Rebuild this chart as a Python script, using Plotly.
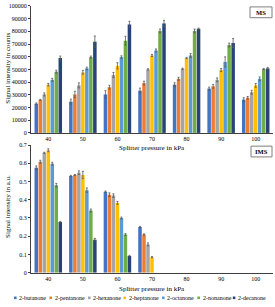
import plotly.graph_objects as go

pressures = ["40", "50", "60", "70", "80", "90", "100"]
compounds = ["2-butanone", "2-pentanone", "2-hexanone", "2-heptanone",
             "2-octanone", "2-nonanone", "2-decanone"]
colors = ["#4472C4", "#ED7D31", "#A5A5A5", "#FFC000", "#5B9BD5", "#70AD47", "#264478"]

# MS signal intensity (counts), one list per compound across pressures
ms_butanone = [23000, 24600, 30300, 33300, 38000, 34900, 26200]
ms_pentanone = [26000, 30300, 36000, 39200, 42600, 36700, 27700]
ms_hexanone = [30300, 37400, 45600, 50000, 50500, 41800, 32000]
ms_heptanone = [38000, 47700, 52800, 61000, 59000, 49500, 37400]
ms_octanone = [41800, 50800, 59700, 64900, 61000, 55900, 42600]
ms_nonanone = [48200, 59700, 72600, 80300, 80300, 69200, 50300]
ms_decanone = [59000, 71800, 85400, 86200, 82000, 70800, 50800]

ms_err_butanone = [600, 2000, 3000, 2000, 1500, 1200, 1500]
ms_err_pentanone = [400, 2500, 1500, 1500, 1200, 1500, 1000]
ms_err_hexanone = [1200, 2000, 2000, 500, 500, 1500, 1500]
ms_err_heptanone = [1000, 1500, 2500, 800, 500, 1200, 1500]
ms_err_octanone = [1200, 1000, 1000, 1200, 1500, 4000, 1500]
ms_err_nonanone = [1200, 800, 3500, 1500, 1500, 1500, 500]
ms_err_decanone = [1500, 4500, 2500, 2500, 500, 3500, 800]

# IMS signal intensity (a.u.)
ims_butanone = [0.576, 0.531, 0.444, 0.25, None, None, None]
ims_pentanone = [0.609, 0.536, 0.428, 0.209, None, None, None]
ims_hexanone = [0.658, 0.549, 0.423, 0.155, None, None, None]
ims_heptanone = [0.672, 0.536, 0.383, 0.085, None, None, None]
ims_octanone = [0.598, 0.453, 0.30, None, None, None, None]
ims_nonanone = [0.48, 0.341, 0.209, None, None, None, None]
ims_decanone = [0.278, 0.18, 0.092, None, None, None, None]

ims_err_butanone = [0.01, 0.003, 0.004, 0.004, None, None, None]
ims_err_pentanone = [0.008, 0.003, 0.01, 0.004, None, None, None]
ims_err_hexanone = [0.003, 0.01, 0.01, 0.008, None, None, None]
ims_err_heptanone = [0.008, 0.02, 0.008, 0.003, None, None, None]
ims_err_octanone = [0.008, 0.012, 0.005, None, None, None, None]
ims_err_nonanone = [0.01, 0.008, 0.005, None, None, None, None]
ims_err_decanone = [0.003, 0.008, 0.003, None, None, None, None]

ms_tickvals = [0, 10000, 20000, 30000, 40000, 50000, 60000, 70000, 80000, 90000, 100000]
ims_tickvals = [0, 0.1, 0.2, 0.3, 0.4, 0.5, 0.6, 0.7]

ms_series = [ms_butanone, ms_pentanone, ms_hexanone, ms_heptanone, ms_octanone, ms_nonanone, ms_decanone]
ms_errs = [ms_err_butanone, ms_err_pentanone, ms_err_hexanone, ms_err_heptanone,
           ms_err_octanone, ms_err_nonanone, ms_err_decanone]
ims_series = [ims_butanone, ims_pentanone, ims_hexanone, ims_heptanone, ims_octanone, ims_nonanone, ims_decanone]
ims_errs = [ims_err_butanone, ims_err_pentanone, ims_err_hexanone, ims_err_heptanone,
            ims_err_octanone, ims_err_nonanone, ims_err_decanone]

W, H = 275, 307
FONT = "Liberation Serif"
ERRC = "#595959"

fig = go.Figure()
for name, c, v, e in zip(compounds, colors, ms_series, ms_errs):
    fig.add_trace(go.Bar(x=pressures, y=v, name=name, marker_color=c, marker_line_width=0,
                         error_y=dict(type="data", array=e, color=ERRC, thickness=0.8, width=1),
                         xaxis="x", yaxis="y", showlegend=False))
for name, c, v, e in zip(compounds, colors, ims_series, ims_errs):
    fig.add_trace(go.Bar(x=pressures, y=v, name=name, marker_color=c, marker_line_width=0,
                         error_y=dict(type="data", array=e, color=ERRC, thickness=0.8, width=1),
                         xaxis="x2", yaxis="y2", showlegend=False))

xl, xr = 31 / W, 273 / W
axis_common = dict(showline=True, linecolor="#404040", linewidth=1, showgrid=False,
                   zeroline=False, tickfont=dict(family=FONT, size=6, color="#000"))

fig.update_layout(
    width=W, height=H, margin=dict(l=0, r=0, t=0, b=0),
    paper_bgcolor="white", plot_bgcolor="white",
    barmode="group", bargap=0.19, bargroupgap=0.12,
    font=dict(family=FONT, color="#000"),
    xaxis=dict(domain=[xl, xr], anchor="y", ticks="", **axis_common),
    yaxis=dict(domain=[1 - 132.5 / H, 1 - 3 / H], anchor="x", range=[0, 100000],
               tickvals=ms_tickvals, tickformat="d", ticks="outside", ticklen=2,
               tickcolor="#404040", **axis_common),
    xaxis2=dict(domain=[xl, xr], anchor="y2", ticks="", **axis_common),
    yaxis2=dict(domain=[1 - 275 / H, 1 - 145 / H], anchor="x2", range=[0, 0.7],
                tickvals=ims_tickvals, tickformat=".1~f", ticks="outside", ticklen=2,
                tickcolor="#404040", **axis_common),
)

anns = []
shapes = []


def px(x):
    return x / W


def py(y):
    return 1 - y / H


def ann(**kw):
    base = dict(xref="paper", yref="paper", showarrow=False, xanchor="center", yanchor="middle")
    base.update(kw)
    anns.append(base)


# axis titles
ann(text="Signal intensity in counts", x=px(8), y=py(67), textangle=-90,
    font=dict(family=FONT, size=7))
ann(text="Signal intensity in a.u.", x=px(8), y=py(208), textangle=-90,
    font=dict(family=FONT, size=7))
ann(text="Splitter pressure in kPa", x=px(152), y=py(147.5), font=dict(family=FONT, size=7))
ann(text="Splitter pressure in kPa", x=px(152), y=py(292), font=dict(family=FONT, size=7))

# labelled boxes
for label, (x0, y0, x1, y1) in [("MS", (250, 4, 272, 15)), ("IMS", (251, 146, 272, 157))]:
    shapes.append(dict(type="rect", xref="paper", yref="paper", x0=px(x0), x1=px(x1),
                       y0=py(y1), y1=py(y0), line=dict(color="#7f7f7f", width=1),
                       fillcolor="white"))
    ann(text="<b>%s</b>" % label, x=px((x0 + x1) / 2), y=py((y0 + y1) / 2),
        font=dict(family=FONT, size=6.5))

# custom compact legend
lx = 14.0
ly = 300.7
for name, c in zip(compounds, colors):
    shapes.append(dict(type="rect", xref="paper", yref="paper", x0=px(lx), x1=px(lx + 2.6),
                       y0=py(ly + 1.3), y1=py(ly - 1.3), line=dict(width=0), fillcolor=c))
    ann(text=name, x=px(lx + 3.2), y=py(ly), xanchor="left", font=dict(family=FONT, size=6))
    lx += 3.4 + 3.2 * len(name)

fig.update_layout(annotations=anns, shapes=shapes)
fig.write_html("out.html", config={"displayModeBar": False},
               post_script="document.body.style.margin='0';document.body.style.overflow='hidden';")
